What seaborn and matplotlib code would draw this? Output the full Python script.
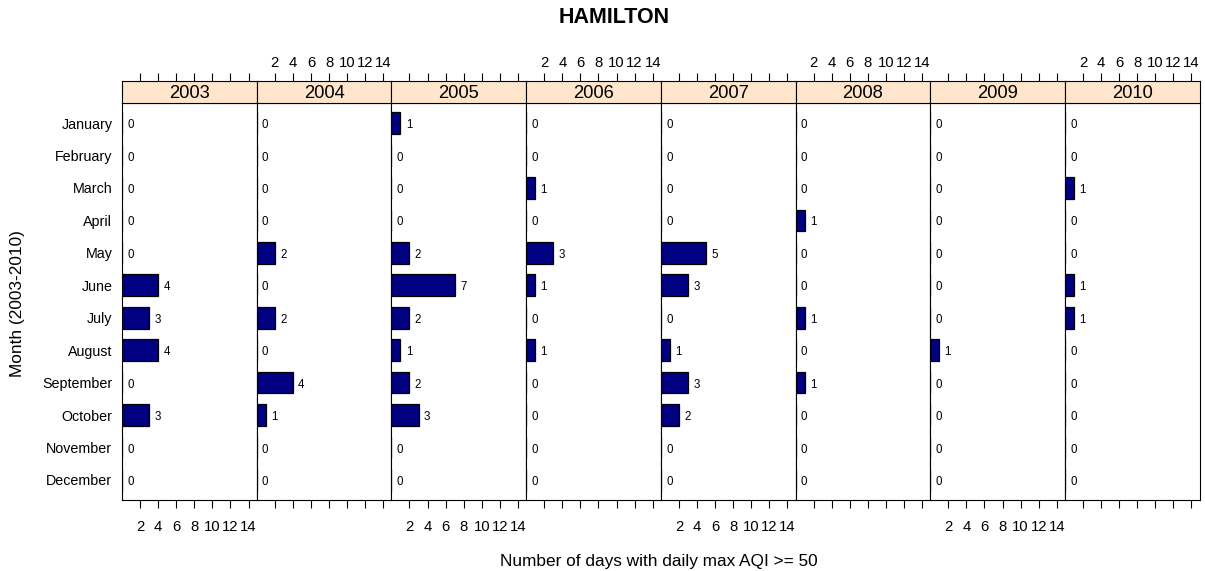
import pandas as pd
import matplotlib
matplotlib.use("Agg")
import matplotlib.pyplot as plt
import seaborn as sns

# ---------- DATA ----------
years = ["2003", "2004", "2005", "2006", "2007", "2008", "2009", "2010"]
months = ["January", "February", "March", "April", "May", "June", "July",
          "August", "September", "October", "November", "December"]

days_2003 = [0, 0, 0, 0, 0, 4, 3, 4, 0, 3, 0, 0]
days_2004 = [0, 0, 0, 0, 2, 0, 2, 0, 4, 1, 0, 0]
days_2005 = [1, 0, 0, 0, 2, 7, 2, 1, 2, 3, 0, 0]
days_2006 = [0, 0, 1, 0, 3, 1, 0, 1, 0, 0, 0, 0]
days_2007 = [0, 0, 0, 0, 5, 3, 0, 1, 3, 2, 0, 0]
days_2008 = [0, 0, 0, 1, 0, 0, 1, 0, 1, 0, 0, 0]
days_2009 = [0, 0, 0, 0, 0, 0, 0, 1, 0, 0, 0, 0]
days_2010 = [0, 0, 1, 0, 0, 1, 1, 0, 0, 0, 0, 0]

x_ticks = [2, 4, 6, 8, 10, 12, 14]

all_days = [days_2003, days_2004, days_2005, days_2006,
            days_2007, days_2008, days_2009, days_2010]

rows = []
for yr, vals in zip(years, all_days):
    for m, v in zip(months, vals):
        rows.append({"year": yr, "month": m, "days": v})
df = pd.DataFrame(rows)

# ---------- STYLE ----------
sns.set_theme(style="white")
plt.rcParams["font.family"] = ["Liberation Sans", "DejaVu Sans"]
plt.rcParams["text.color"] = "black"
plt.rcParams["axes.labelcolor"] = "black"
plt.rcParams["xtick.color"] = "black"
plt.rcParams["ytick.color"] = "black"

W, H = 1205, 571
fig = plt.figure(figsize=(W / 100, H / 100), dpi=100)

left_px, panel_w = 122, 134.7
panel_top, panel_bot = 103, 500
strip_top = 81
XMAX = 14.9

for k, yr in enumerate(years):
    x0 = (left_px + k * panel_w) / W
    ax = fig.add_axes([x0, (H - panel_bot) / H, panel_w / W, (panel_bot - panel_top) / H])
    sub = df[df["year"] == yr]
    sns.barplot(data=sub, x="days", y="month", order=months, orient="h",
                color="#000080", saturation=1, edgecolor="black",
                linewidth=0.9, width=0.67, ax=ax)
    ax.set_xlim(0, XMAX)
    ax.set_ylim(11.62, -0.62)
    ax.set_xlabel("")
    ax.set_ylabel("")
    for i, v in enumerate(sub["days"].tolist()):
        ax.annotate(str(v), xy=(v, i), xytext=(3.8, -1.5), textcoords="offset points",
                    ha="left", va="center", fontsize=8.3, color="black")
    ax.set_xticks(x_ticks)
    ax.tick_params(axis="x", bottom=True, direction="out", length=5.8, width=0.8,
                   color="black", labelcolor="black", labelsize=10.7, pad=8.7,
                   labelbottom=(k % 2 == 0))
    if k == 0:
        ax.tick_params(axis="y", left=True, length=0, pad=7, labelsize=10.3,
                       labelcolor="black")
    else:
        ax.tick_params(axis="y", left=False, labelleft=False)
    for sp in ax.spines.values():
        sp.set_color("black")
        sp.set_linewidth(0.8)

    # strip on top of each panel
    sax = fig.add_axes([x0, (H - panel_top) / H, panel_w / W, (panel_top - strip_top) / H])
    sax.set_facecolor("#ffe5cc")
    sax.set_xlim(0, XMAX)
    sax.set_yticks([])
    sax.set_xticks(x_ticks)
    sax.xaxis.tick_top()
    sax.tick_params(axis="x", top=True, bottom=False, direction="out", length=5.8,
                    width=0.8, color="black", labelcolor="black", labelsize=10.7,
                    pad=2.3, labeltop=(k % 2 == 1), labelbottom=False)
    for sp in sax.spines.values():
        sp.set_color("black")
        sp.set_linewidth(0.8)
    sax.text(0.5, 0.45, yr, transform=sax.transAxes, ha="center", va="center",
             fontsize=13.2, color="black")

fig.text(614 / W, 1 - 17.7 / H, "HAMILTON", ha="center", va="center",
         fontsize=15.5, fontweight="bold", color="black")
fig.text(658.5 / W, 1 - 566 / H, "Number of days with daily max AQI >= 50",
         ha="center", va="baseline", fontsize=12.4, color="black")
fig.text(18 / W, 1 - 303.5 / H, "Month (2003-2010)", ha="center", va="center",
         rotation=90, fontsize=12.4, color="black")

fig.savefig("out.png", dpi=100)
